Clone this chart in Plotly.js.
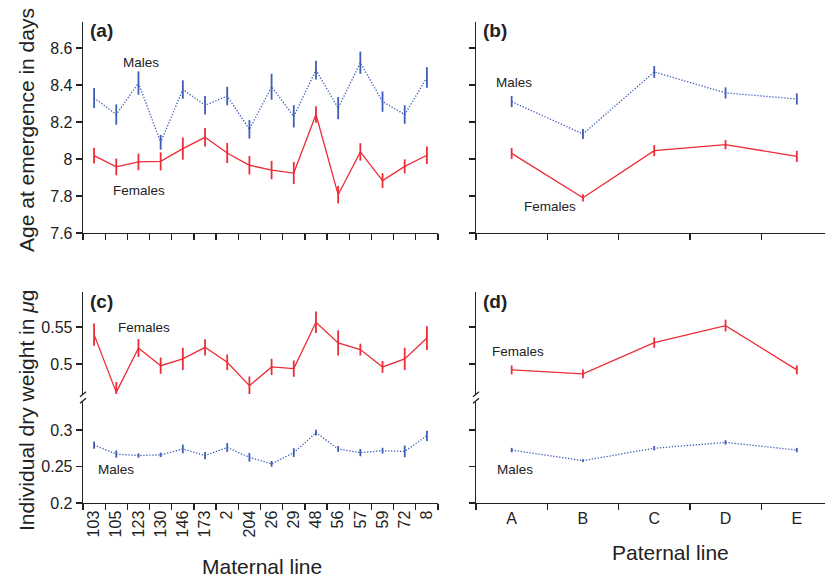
<!DOCTYPE html>
<html>
<head>
<meta charset="utf-8">
<script src="https://cdn.plot.ly/plotly-3.0.1.min.js"></script>
<style>html,body{margin:0;padding:0;background:#fff;}#chart{width:825px;height:577px;}</style>
</head>
<body>
<div id="chart"></div>
<script>
// ---- Data ----
const maternalLines = ["103","105","123","130","146","173","2","204","26","29","48","56","57","59","72","8"];
const paternalLines = ["A","B","C","D","E"];

// (a) Age at emergence, by maternal line
const ageMatMales      = [8.33, 8.24, 8.41, 8.09, 8.375, 8.29, 8.34, 8.16, 8.39, 8.23, 8.48, 8.275, 8.52, 8.31, 8.24, 8.44];
const ageMatMalesErr   = [0.054, 0.055, 0.063, 0.04, 0.05, 0.05, 0.05, 0.05, 0.07, 0.06, 0.05, 0.06, 0.06, 0.055, 0.05, 0.055];
const ageMatFemales    = [8.018, 7.957, 7.984, 7.987, 8.056, 8.117, 8.032, 7.966, 7.94, 7.924, 8.24, 7.807, 8.038, 7.883, 7.96, 8.02];
const ageMatFemalesErr = [0.042, 0.045, 0.045, 0.049, 0.06, 0.05, 0.054, 0.05, 0.05, 0.06, 0.045, 0.047, 0.047, 0.04, 0.038, 0.047];

// (b) Age at emergence, by paternal line
const agePatMales      = [8.31, 8.135, 8.47, 8.357, 8.324];
const agePatMalesErr   = [0.03, 0.027, 0.032, 0.03, 0.03];
const agePatFemales    = [8.03, 7.79, 8.045, 8.077, 8.014];
const agePatFemalesErr = [0.03, 0.02, 0.03, 0.025, 0.03];

// (c) Dry weight, by maternal line
const wtMatFemales     = [0.5396, 0.4617, 0.5216, 0.4977, 0.5068, 0.5225, 0.5023, 0.4707, 0.496, 0.4937, 0.5563, 0.5284, 0.5194, 0.496, 0.5068, 0.535];
const wtMatFemalesErr  = [0.015, 0.014, 0.012, 0.011, 0.015, 0.011, 0.0105, 0.0124, 0.011, 0.011, 0.0146, 0.017, 0.008, 0.008, 0.015, 0.016];
const wtMatMales       = [0.2793, 0.267, 0.265, 0.266, 0.274, 0.265, 0.276, 0.2626, 0.2536, 0.269, 0.2964, 0.274, 0.269, 0.2716, 0.2707, 0.292];
const wtMatMalesErr    = [0.005, 0.005, 0.003, 0.003, 0.006, 0.005, 0.006, 0.006, 0.004, 0.006, 0.004, 0.004, 0.005, 0.004, 0.008, 0.007];

// (d) Dry weight, by paternal line
const wtPatFemales     = [0.492, 0.4867, 0.5288, 0.5518, 0.492];
const wtPatFemalesErr  = [0.006, 0.006, 0.007, 0.008, 0.006];
const wtPatMales       = [0.2725, 0.258, 0.275, 0.283, 0.2725];
const wtPatMalesErr    = [0.003, 0.002, 0.003, 0.003, 0.003];

// ---- Styling ----
const W = 825, H = 577;
const px = x => x / W;
const py = y => (H - y) / H;
const RED = "#ec2c36", BLUE = "#3d5db8";
const FONT = "Liberation Sans, Arial, Helvetica, sans-serif";

function tr(x, y, err, xa, ya, color, dotted) {
  return {
    type: "scatter", mode: "lines", x: x, y: y, xaxis: xa, yaxis: ya,
    line: {color: color, width: dotted ? 1.3 : 1.3, dash: dotted ? "1.3px,1.7px" : "solid"},
    error_y: {type: "data", array: err, visible: true, color: color, thickness: 1.8, width: 0},
    cliponaxis: false, hoverinfo: "skip", showlegend: false
  };
}

const data = [
  tr(maternalLines, ageMatMales, ageMatMalesErr, "x", "y", BLUE, true),
  tr(maternalLines, ageMatFemales, ageMatFemalesErr, "x", "y", RED, false),
  tr(paternalLines, agePatMales, agePatMalesErr, "x2", "y2", BLUE, true),
  tr(paternalLines, agePatFemales, agePatFemalesErr, "x2", "y2", RED, false),
  tr(maternalLines, wtMatMales, wtMatMalesErr, "x3", "y3", BLUE, true),
  tr(maternalLines, wtMatFemales, wtMatFemalesErr, "x3", "y4", RED, false),
  tr(paternalLines, wtPatMales, wtPatMalesErr, "x4", "y5", BLUE, true),
  tr(paternalLines, wtPatFemales, wtPatFemalesErr, "x4", "y6", RED, false)
];

const axBase = {
  showline: true, linecolor: "#222", linewidth: 1.3, ticks: "outside", ticklen: 6,
  tickcolor: "#222", tickwidth: 1.3, showgrid: false, zeroline: false,
  tickfont: {family: FONT, size: 16, color: "#222"}, fixedrange: true
};
const xa = (domain, anchor, range, labels, extra) => Object.assign({}, axBase, {
  type: "category", domain: domain, anchor: anchor, range: range,
  tickson: "boundaries", categoryorder: "array", categoryarray: labels
}, extra || {});
const ya = (domain, anchor, range, tickvals, extra) => Object.assign({}, axBase, {
  domain: domain, anchor: anchor, range: range, tickvals: tickvals
}, extra || {});

const xLeft = [px(83), px(438)];
const xRight = [px(476), 1.0];
const yTop = [py(233), py(22)];
const yLow = [py(503), py(401)];
const yUp = [py(394), py(292)];

const layout = {
  width: W, height: H, margin: {l: 0, r: 0, t: 0, b: 0},
  paper_bgcolor: "#fff", plot_bgcolor: "#fff",
  font: {family: FONT, color: "#222"},
  showlegend: false,
  xaxis:  xa(xLeft, "y", [-0.5, 15.5], maternalLines, {showticklabels: false}),
  yaxis:  ya(yTop, "x", [7.6, 8.74], [7.6, 7.8, 8.0, 8.2, 8.4, 8.6]),
  xaxis2: xa(xRight, "y2", [-0.5, 4.395], paternalLines, {showticklabels: false}),
  yaxis2: ya(yTop, "x2", [7.6, 8.74], [7.6, 7.8, 8.0, 8.2, 8.4, 8.6], {showticklabels: false}),
  xaxis3: xa(xLeft, "y3", [-0.5, 15.5], maternalLines, {tickangle: -90}),
  yaxis3: ya(yLow, "x3", [0.2, 0.3397], [0.2, 0.25, 0.3]),
  yaxis4: ya(yUp, "x3", [0.4595, 0.5971], [0.5, 0.55]),
  xaxis4: xa(xRight, "y5", [-0.5, 4.395], paternalLines),
  yaxis5: ya(yLow, "x4", [0.2, 0.3397], [0.2, 0.25, 0.3], {showticklabels: false}),
  yaxis6: ya(yUp, "x4", [0.4595, 0.5971], [0.5, 0.55], {showticklabels: false}),
  shapes: [],
  annotations: []
};

// axis-break marks
[83, 476].forEach(ax => {
  [[396.7, 391.7], [403.3, 398.3]].forEach(([y0, y1]) => {
    layout.shapes.push({type: "line", xref: "paper", yref: "paper",
      x0: px(ax - 3), y0: py(y0), x1: px(ax + 3), y1: py(y1),
      line: {color: "#222", width: 1.3}});
  });
});

function ann(text, x, y, size, opts) {
  layout.annotations.push(Object.assign({
    text: text, xref: "paper", yref: "paper", x: px(x), y: py(y),
    xanchor: "left", yanchor: "middle", showarrow: false,
    font: {family: FONT, size: size, color: "#222"}
  }, opts || {}));
}
// panel labels
ann("<b>(a)</b>", 88, 31, 19);
ann("<b>(b)</b>", 481, 31, 19);
ann("<b>(c)</b>", 88, 301, 19);
ann("<b>(d)</b>", 481, 301, 19);
// series labels
ann("Males", 121, 63, 13.5);
ann("Females", 111, 190, 13.5);
ann("Males", 494, 82, 13.5);
ann("Females", 522, 206, 13.5);
ann("Females", 116, 327, 13.5);
ann("Males", 96, 469, 13.5);
ann("Females", 490, 351, 13.5);
ann("Males", 495, 469, 13.5);
// axis titles
ann("Age at emergence in days", 26, 130, 21, {xanchor: "center", textangle: -90});
ann("Individual dry weight in <i>μ</i>g", 26, 410, 21, {xanchor: "center", textangle: -90});
ann("Maternal line", 262, 566, 21, {xanchor: "center"});
ann("Paternal line", 670, 552, 21, {xanchor: "center"});

Plotly.newPlot("chart", data, layout, {staticPlot: true, displayModeBar: false});
</script>
</body>
</html>
